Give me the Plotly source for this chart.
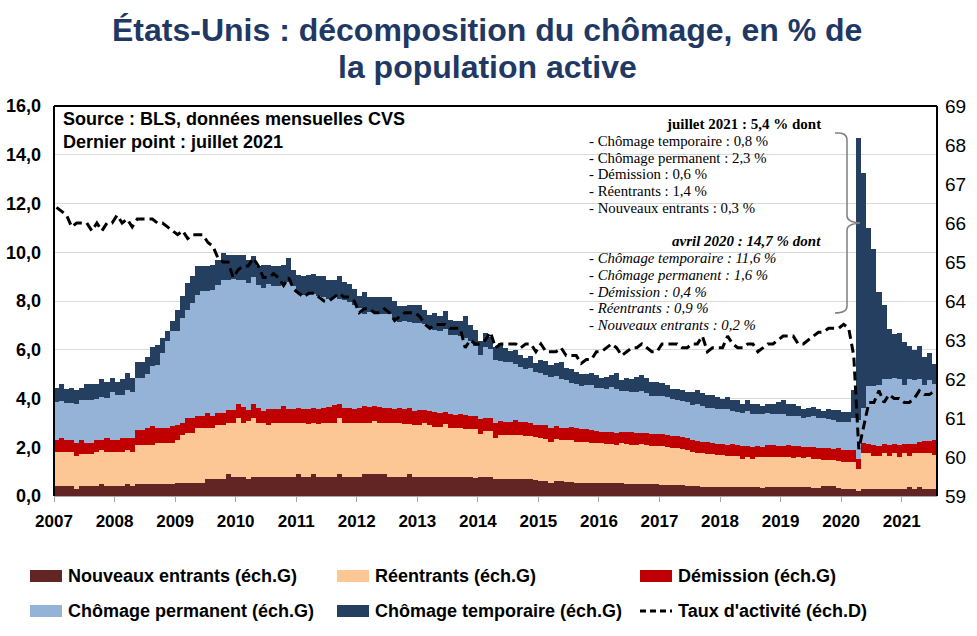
import plotly.graph_objects as go

# ---------------- DATA (monthly, Jan 2007 - Jul 2021, % of labour force) ----------------
years = list(range(2007, 2022))
year_labels = [str(y) for y in years]

nouveaux_entrants = [
    .42,.42,.42,.42,.29,.42,.42,.42,.42,.49,.42,.42,
    .42,.42,.49,.42,.49,.49,.49,.49,.49,.49,.49,.49,
    .52,.52,.52,.52,.52,.52,.70,.70,.70,.70,.89,.79,
    .79,.79,.70,.79,.79,.79,.79,.79,.79,.79,.79,.79,
    .89,.79,.79,.89,.79,.79,.79,.79,.89,.79,.79,.79,
    .79,.89,.89,.89,.89,.89,.79,.79,.79,.79,.89,.79,
    .79,.79,.79,.79,.79,.79,.79,.79,.79,.79,.79,.72,
    .79,.79,.79,.70,.70,.70,.70,.70,.70,.70,.70,.66,
    .60,.60,.52,.60,.60,.56,.56,.52,.55,.55,.52,.52,
    .52,.52,.52,.52,.52,.48,.48,.48,.48,.48,.48,.48,
    .46,.46,.46,.46,.46,.42,.42,.40,.38,.38,.38,.38,
    .38,.38,.38,.38,.38,.38,.38,.38,.32,.38,.38,.38,
    .38,.38,.38,.38,.38,.38,.32,.32,.40,.40,.40,.32,
    .30,.30,.30,.20,.30,.30,.30,.30,.30,.30,.30,.30,
    .30,.38,.30,.38,.30,.30,.30,
]
reentrants = [
    1.40,1.40,1.40,1.40,1.35,1.29,1.29,1.29,1.40,1.40,1.40,1.40,
    1.40,1.40,1.40,1.40,1.60,1.60,1.60,1.60,1.67,1.67,1.67,1.67,
    1.78,1.99,2.08,2.08,2.26,2.26,2.11,2.11,2.22,2.22,2.12,2.22,
    2.43,2.22,2.36,2.43,2.22,2.22,2.13,2.22,2.22,2.22,2.22,2.22,
    2.12,2.22,2.16,2.12,2.16,2.22,2.22,2.22,2.33,2.22,2.22,2.22,
    2.22,2.12,2.12,2.17,2.12,2.12,2.22,2.22,2.22,2.16,2.06,2.13,
    2.13,2.19,2.13,2.06,2.06,2.16,2.01,1.99,1.99,1.96,1.96,2.03,
    1.76,1.87,1.87,1.68,1.80,1.80,1.80,1.82,1.82,1.78,1.75,1.76,
    1.78,1.75,1.68,1.72,1.70,1.72,1.72,1.70,1.67,1.65,1.64,1.64,
    1.64,1.60,1.60,1.57,1.64,1.64,1.61,1.61,1.64,1.61,1.57,1.57,
    1.59,1.56,1.52,1.52,1.46,1.46,1.38,1.36,1.37,1.34,1.34,1.32,
    1.30,1.26,1.26,1.26,1.12,1.23,1.12,1.23,1.29,1.23,1.23,1.23,
    1.23,1.23,1.17,1.23,1.17,1.20,1.20,1.20,1.08,1.08,1.08,1.13,
    1.11,1.11,1.08,0.90,1.45,1.45,1.35,1.35,1.45,1.35,1.45,1.28,
    1.45,1.27,1.45,1.37,1.45,1.45,1.40,
]
demission = [
    .48,.55,.48,.48,.52,.59,.45,.45,.48,.41,.55,.48,
    .48,.55,.48,.55,.62,.62,.69,.80,.62,.62,.62,.73,
    .62,.47,.59,.59,.51,.51,.59,.48,.48,.48,.52,.52,
    .55,.66,.47,.55,.59,.48,.65,.56,.56,.69,.56,.56,
    .58,.55,.62,.60,.62,.58,.65,.72,.55,.60,.58,.55,
    .58,.70,.65,.62,.65,.58,.60,.55,.58,.60,.65,.58,
    .60,.55,.55,.58,.55,.50,.55,.55,.60,.58,.55,.55,
    .60,.55,.52,.62,.58,.55,.55,.60,.52,.55,.55,.50,
    .52,.55,.60,.55,.50,.52,.55,.55,.52,.55,.55,.52,
    .48,.50,.52,.50,.48,.50,.52,.50,.48,.50,.50,.48,
    .48,.50,.48,.50,.52,.48,.50,.48,.45,.50,.45,.45,
    .45,.45,.48,.45,.55,.45,.50,.45,.42,.48,.48,.45,
    .45,.48,.50,.45,.48,.45,.48,.45,.50,.48,.45,.50,
    .47,.47,.50,.40,.42,.40,.45,.42,.38,.45,.40,.50,
    .40,.50,.40,.48,.50,.50,.60,
]
chomage_permanent = [
    1.55,1.53,1.53,1.53,1.62,1.64,1.78,1.78,1.69,1.78,1.64,1.98,
    1.85,1.78,1.98,1.91,2.12,2.12,2.23,2.45,2.60,3.08,3.56,3.86,
    3.83,4.32,4.45,4.72,4.96,5.10,4.99,5.17,5.27,5.47,5.34,5.38,
    5.10,5.20,5.20,5.20,5.07,5.04,5.12,5.03,5.03,4.97,5.23,5.03,
    4.73,4.69,4.73,4.67,4.65,4.56,4.44,4.42,4.33,4.44,4.36,4.29,
    4.11,3.74,3.89,3.82,3.79,3.86,3.84,3.74,3.56,3.65,3.55,3.60,
    3.58,3.52,3.48,3.39,3.35,3.40,3.27,3.27,3.17,3.17,3.05,2.85,
    2.65,2.89,2.87,2.60,2.47,2.45,2.45,2.28,2.26,2.17,2.25,2.18,
    2.15,2.08,2.08,2.05,1.98,1.95,1.82,1.83,1.78,1.80,1.84,1.77,
    1.81,1.78,1.84,1.81,1.66,1.70,1.67,1.66,1.70,1.63,1.57,1.57,
    1.57,1.53,1.52,1.47,1.46,1.49,1.42,1.54,1.50,1.38,1.45,1.40,
    1.42,1.49,1.38,1.36,1.35,1.42,1.35,1.32,1.32,1.31,1.29,1.29,
    1.29,1.21,1.23,1.24,1.19,1.22,1.28,1.23,1.24,1.19,1.17,1.10,
    1.17,1.17,1.32,1.60,1.43,2.35,2.40,2.48,2.67,2.70,2.70,2.72,
    2.40,2.65,2.60,2.57,2.30,2.50,2.30,
]
chomage_temporaire = [
    .60,.69,.55,.62,.57,.51,.65,.65,.60,.71,.65,.58,
    .51,.64,.71,.58,.65,.65,.68,.79,.82,.61,.43,.44,
    .89,.89,1.09,1.10,1.17,1.03,1.03,1.03,1.02,1.10,1.03,.99,
    1.03,1.03,.96,.86,.75,.93,.77,.82,.82,.82,.96,.68,
    .76,.76,.78,.84,.79,.86,.77,.72,.91,.72,.74,.64,
    .49,.92,.61,.66,.71,.71,.71,.68,.63,.58,.69,.74,
    .74,.59,.48,.68,.64,.72,.61,.60,.65,.89,.67,.64,
    .54,.58,.49,.53,.72,.56,.43,.58,.49,.45,.49,.37,
    .54,.54,.50,.53,.72,.50,.55,.50,.48,.45,.50,.53,
    .40,.50,.47,.65,.45,.53,.50,.63,.65,.63,.56,.58,
    .55,.50,.40,.45,.45,.40,.53,.57,.52,.55,.53,.53,
    .43,.47,.45,.50,.38,.47,.43,.40,.35,.38,.40,.50,
    .60,.48,.50,.38,.36,.35,.37,.38,.26,.40,.42,.47,
    .40,.40,1.15,11.6,9.65,6.50,5.65,3.80,3.05,2.05,1.80,1.90,
    1.75,1.35,1.25,1.35,1.15,1.10,0.80,
]
taux_activite = [
    66.4,66.3,66.2,65.9,66.0,66.0,66.0,65.8,66.0,65.8,66.0,66.0,
    66.2,66.0,66.1,65.9,66.1,66.1,66.1,66.1,66.0,66.0,65.9,65.8,
    65.7,65.8,65.6,65.7,65.7,65.7,65.5,65.4,65.1,65.0,65.0,64.6,
    64.8,64.9,64.9,65.1,64.9,64.6,64.6,64.7,64.6,64.4,64.6,64.3,
    64.2,64.1,64.2,64.2,64.1,64.0,64.0,64.1,64.2,64.1,64.1,64.0,
    63.7,63.8,63.8,63.7,63.7,63.8,63.7,63.5,63.6,63.7,63.7,63.7,
    63.6,63.4,63.3,63.4,63.4,63.4,63.3,63.3,63.3,62.8,63.0,62.9,
    62.9,63.0,63.2,62.8,62.9,62.9,62.9,62.9,62.8,62.9,62.9,62.7,
    62.9,62.7,62.7,62.7,62.8,62.6,62.6,62.6,62.4,62.5,62.5,62.7,
    62.7,62.8,62.9,62.8,62.6,62.7,62.8,62.8,62.9,62.8,62.7,62.7,
    62.9,62.9,62.9,62.9,62.8,62.8,62.9,62.9,63.1,62.7,62.8,62.8,
    62.8,63.1,62.9,62.8,62.8,62.9,62.9,62.7,62.8,62.9,62.9,63.0,
    63.1,63.1,63.1,62.9,62.9,63.0,63.1,63.2,63.2,63.3,63.3,63.3,
    63.4,63.3,62.6,60.2,60.8,61.4,61.4,61.7,61.4,61.6,61.5,61.5,
    61.4,61.4,61.5,61.7,61.6,61.6,61.7,
]

# month positions (decimal years, bar centred in its month)
n = len(taux_activite)
x = [2007 + (i + 0.5) / 12 for i in range(n)]

series = [
    ("Nouveaux entrants (éch.G)", nouveaux_entrants, "#632523"),
    ("Réentrants (éch.G)", reentrants, "#FCC794"),
    ("Démission (éch.G)", demission, "#C00000"),
    ("Chômage permanent (éch.G)", chomage_permanent, "#95B3D7"),
    ("Chômage temporaire (éch.G)", chomage_temporaire, "#243F60"),
]

SANS = "Liberation Sans, Arial, sans-serif"
SERIF = "Liberation Serif, Times New Roman, serif"

fig = go.Figure()
for name, vals, col in series:
    fig.add_trace(go.Bar(x=x, y=vals, name=name, marker=dict(color=col, line=dict(width=0)),
                         showlegend=False))
fig.add_trace(go.Scatter(x=x, y=taux_activite, yaxis="y2", mode="lines", name="Taux d'activité (éch.D)",
                         line=dict(color="black", width=3, dash="9px,5px"), showlegend=False))

# layout geometry (pixels)
W, H = 977, 636
L, R, T, B = 54, 937, 106, 496
def px(X):
    return (X - L) / (R - L)
def py(Y):
    return (B - Y) / (B - T)

fig.update_layout(
    width=W, height=H,
    margin=dict(l=L, r=W - R, t=T, b=H - B, autoexpand=False),
    paper_bgcolor="white", plot_bgcolor="white",
    barmode="stack", bargap=0,
    separators=", ",
    xaxis=dict(range=[2007, 2021 + 7 / 12], tickvals=years, ticktext=year_labels,
               tickfont=dict(family=SANS, size=17, color="black", weight="bold"),
               ticks="outside", ticklen=5, tickcolor="#A6A6A6", showgrid=False,
               showline=True, linecolor="#A6A6A6", linewidth=1, zeroline=False,
               ticklabelstandoff=5, automargin=False),
    yaxis=dict(range=[0, 16], tickvals=list(range(0, 17, 2)), tickformat=".1f",
               tickfont=dict(family=SANS, size=18, color="black", weight="bold"),
               showgrid=True, gridcolor="#D9D9D9", gridwidth=1, zeroline=False,
               showline=False, ticks="", ticklabelstandoff=12, automargin=False),
    yaxis2=dict(range=[59, 69], dtick=1, overlaying="y", side="right", showgrid=False,
                tickfont=dict(family=SANS, size=19, color="black"), zeroline=False,
                showline=False, ticks="", ticklabelstandoff=7, automargin=False),
)

shapes = []
# black frame: left, top, right
for (x0, y0, x1, y1) in [(0, 0, 0, 1), (0, 1, 1, 1), (1, 0, 1, 1)]:
    shapes.append(dict(type="line", xref="paper", yref="paper", x0=x0, y0=y0, x1=x1, y1=y1,
                       line=dict(color="black", width=2)))

# curly brace
pts = "M {a},{b} Q {c},{d} {c},{e} L {c},{f} Q {c},{g} {h},{i} Q {c},{j} {c},{k} L {c},{l} Q {c},{m} {a},{m}"
path = pts.format(a=px(835), b=py(133), c=px(847), d=py(132), e=py(140), f=py(216), g=py(222),
                  h=px(860), i=py(223), j=py(224), k=py(230), l=py(306), m=py(313))
shapes.append(dict(type="path", xref="paper", yref="paper", path=path,
                   line=dict(color="#7F7F7F", width=1.5)))

annotations = []
# title
for t, yy in [("États-Unis : décomposition du chômage, en % de", 30), ("la population active", 67)]:
    annotations.append(dict(xref="paper", yref="paper", x=px(487), y=py(yy), xanchor="center",
                            yanchor="middle", showarrow=False, text="<b>" + t + "</b>",
                            font=dict(family=SANS, size=32, color="#1F3864")))
# source box
annotations.append(dict(xref="paper", yref="paper", x=px(61), y=py(107), xanchor="left", yanchor="top",
                        align="left", showarrow=False,
                        text="<b>Source : BLS, données mensuelles CVS<br>Dernier point : juillet 2021</b>",
                        font=dict(family=SANS, size=18, color="black")))

# detail annotation
annotations.append(dict(xref="paper", yref="paper", x=px(743), y=py(124), xanchor="center", yanchor="middle",
                        showarrow=False, text="<b>juillet 2021 : 5,4 % dont</b>",
                        font=dict(family=SERIF, size=15, color="black")))
jul_lines = ["- Chômage temporaire : 0,8 %", "- Chômage permanent : 2,3 %", "- Démission : 0,6 %",
             "- Réentrants : 1,4 %", "- Nouveaux entrants : 0,3 %"]
for k, t in enumerate(jul_lines):
    annotations.append(dict(xref="paper", yref="paper", x=px(587), y=py(141 + 16.7 * k), xanchor="left",
                            yanchor="middle", showarrow=False, text=t,
                            font=dict(family=SERIF, size=14.8, color="black")))
annotations.append(dict(xref="paper", yref="paper", x=px(746), y=py(241), xanchor="center", yanchor="middle",
                        showarrow=False, text="<b><i>avril 2020 : 14,7 % dont</i></b>",
                        font=dict(family=SERIF, size=15, color="black")))
apr_lines = ["- Chômage temporaire : 11,6 %", "- Chômage permanent : 1,6 %", "- Démission : 0,4 %",
             "- Réentrants : 0,9 %", "- Nouveaux entrants : 0,2 %"]
for k, t in enumerate(apr_lines):
    annotations.append(dict(xref="paper", yref="paper", x=px(587), y=py(258 + 16.8 * k), xanchor="left",
                            yanchor="middle", showarrow=False, text="<i>" + t + "</i>",
                            font=dict(family=SERIF, size=14.8, color="black")))

# manual legend
leg_items = [
    (series[0][0], series[0][2], 30, 576, "bar"),
    (series[1][0], series[1][2], 337, 576, "bar"),
    (series[2][0], series[2][2], 640, 576, "bar"),
    (series[3][0], series[3][2], 30, 611, "bar"),
    (series[4][0], series[4][2], 337, 611, "bar"),
    ("Taux d'activité (éch.D)", "black", 640, 611, "line"),
]
for name, col, lx, ly, kind in leg_items:
    if kind == "bar":
        shapes.append(dict(type="rect", xref="paper", yref="paper", x0=px(lx), x1=px(lx + 32),
                           y0=py(ly + 6), y1=py(ly - 6), fillcolor=col, line=dict(width=0)))
    else:
        shapes.append(dict(type="line", xref="paper", yref="paper", x0=px(lx), x1=px(lx + 32),
                           y0=py(ly), y1=py(ly), line=dict(color=col, width=3, dash="6px,4px")))
    annotations.append(dict(xref="paper", yref="paper", x=px(lx + 36), y=py(ly), xanchor="left",
                            yanchor="middle", showarrow=False, text="<b>" + name + "</b>",
                            font=dict(family=SANS, size=18, color="black")))

fig.update_layout(shapes=shapes, annotations=annotations)
fig.write_html("out.html", config={"displayModeBar": False},
               post_script="document.body.style.margin='0';document.body.style.overflow='hidden';")
